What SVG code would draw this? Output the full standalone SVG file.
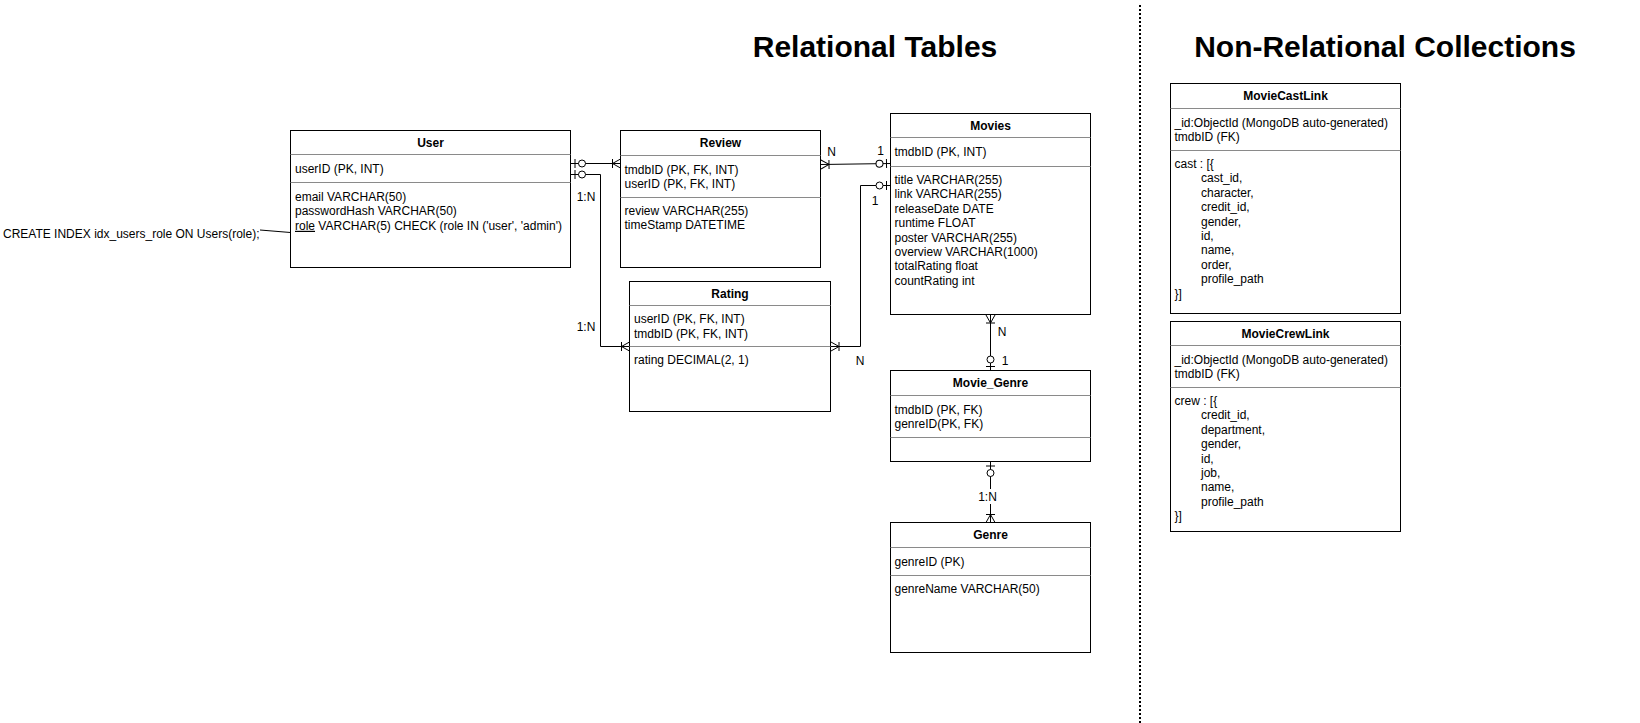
<svg xmlns="http://www.w3.org/2000/svg" width="1640" height="723" viewBox="0 0 1640 723">
<style>
.box{fill:#fff;stroke:#000;stroke-width:1}
.dv{stroke:#8a8a8a;stroke-width:1;fill:none}
text{font-family:"Liberation Sans",Arial,Helvetica,sans-serif;font-size:12px;fill:#000}
.h{font-weight:bold;text-anchor:middle}
.title{font-size:30px;font-weight:bold;text-anchor:middle}
.lbl{text-anchor:middle}
.conn{fill:none;stroke:#000;stroke-width:1}
</style>
<defs>
<marker id="oneMany" viewBox="-12 -7 14 14" refX="0" refY="0" markerWidth="14" markerHeight="14" markerUnits="userSpaceOnUse" orient="auto-start-reverse">
<path d="M-8,-4.5 L-8,4.5 M-8,0 L0,-4.5 M-8,0 L0,4.5" fill="none" stroke="#000" stroke-width="1"/>
</marker>
<marker id="zeroOne" viewBox="-16 -7 18 14" refX="0" refY="0" markerWidth="18" markerHeight="14" markerUnits="userSpaceOnUse" orient="auto-start-reverse">
<path d="M-4,-4.5 L-4,4.5" fill="none" stroke="#000" stroke-width="1"/>
<circle cx="-11" cy="0" r="3.5" fill="#fff" stroke="#000" stroke-width="1"/>
</marker>
</defs>
<rect width="1640" height="723" fill="#fff"/>

<g id="titles">
<text class="title" x="875" y="56.5">Relational Tables</text>
<text class="title" x="1385" y="56.5">Non-Relational Collections</text>
</g>
<g id="separator">
<line x1="1140" y1="5" x2="1140" y2="723" stroke="#000" stroke-width="2" stroke-dasharray="2 2"/>
</g>

<g id="connectors">
<path class="conn" d="M571,163.5 L620.5,163.5" marker-start="url(#zeroOne)" marker-end="url(#oneMany)"/>
<path class="conn" d="M571,174.5 L600.5,174.5 L600.5,346.5 L629.5,346.5" marker-start="url(#zeroOne)" marker-end="url(#oneMany)"/>
<path class="conn" d="M821,164.5 L890.5,163.5" marker-start="url(#oneMany)" marker-end="url(#zeroOne)"/>
<path class="conn" d="M831,346.5 L860.5,346.5 L860.5,185.5 L890.5,185.5" marker-start="url(#oneMany)" marker-end="url(#zeroOne)"/>
<path class="conn" d="M990.5,315 L990.5,370.5" marker-start="url(#oneMany)" marker-end="url(#zeroOne)"/>
<path class="conn" d="M990.5,462 L990.5,522.5" marker-start="url(#zeroOne)" marker-end="url(#oneMany)"/>
<path class="conn" d="M260,230 L290.5,232.5"/>
<text class="lbl" x="586" y="201">1:N</text>
<text class="lbl" x="586" y="331">1:N</text>
<text class="lbl" x="831.5" y="156">N</text>
<text class="lbl" x="880.5" y="155">1</text>
<text class="lbl" x="875" y="205">1</text>
<text class="lbl" x="860" y="365">N</text>
<text class="lbl" x="1002" y="336">N</text>
<text class="lbl" x="1005" y="365">1</text>
<rect x="976" y="489" width="23" height="15" fill="#fff"/>
<text class="lbl" x="987.5" y="501">1:N</text>
</g>

<g id="index-note">
<text x="3" y="238">CREATE INDEX idx_users_role ON Users(role);</text>
</g>

<g id="User">
<rect class="box" x="290.5" y="130.5" width="280" height="137"/>
<path class="dv" d="M290.5,154.5 H570.5 M290.5,182.5 H570.5"/>
<text class="h" x="430.5" y="146.8">User</text>
<text x="295" y="172.8">userID (PK, INT)</text>
<text x="295" y="201">email VARCHAR(50)</text>
<text x="295" y="215.4">passwordHash VARCHAR(50)</text>
<text x="295" y="229.8"><tspan text-decoration="underline">role</tspan> VARCHAR(5) CHECK (role IN ('user', 'admin')</text>
</g>

<g id="Review">
<rect class="box" x="620.5" y="130.5" width="200" height="137"/>
<path class="dv" d="M620.5,155.5 H820.5 M620.5,197.5 H820.5"/>
<text class="h" x="720.5" y="147.3">Review</text>
<text x="624.5" y="173.6">tmdbID (PK, FK, INT)</text>
<text x="624.5" y="188">userID (PK, FK, INT)</text>
<text x="624.5" y="215">review VARCHAR(255)</text>
<text x="624.5" y="229.4">timeStamp DATETIME</text>
</g>

<g id="Rating">
<rect class="box" x="629.5" y="281.5" width="201" height="130"/>
<path class="dv" d="M629.5,305.5 H830.5 M629.5,346.5 H830.5"/>
<text class="h" x="730" y="297.8">Rating</text>
<text x="634" y="323.1">userID (PK, FK, INT)</text>
<text x="634" y="337.5">tmdbID (PK, FK, INT)</text>
<text x="634" y="364">rating DECIMAL(2, 1)</text>
</g>

<g id="Movies">
<rect class="box" x="890.5" y="113.5" width="200" height="201"/>
<path class="dv" d="M890.5,137.5 H1090.5 M890.5,166.5 H1090.5"/>
<text class="h" x="990.5" y="129.8">Movies</text>
<text x="894.5" y="156.3">tmdbID (PK, INT)</text>
<text x="894.5" y="184">title VARCHAR(255)</text>
<text x="894.5" y="198.4">link VARCHAR(255)</text>
<text x="894.5" y="212.8">releaseDate DATE</text>
<text x="894.5" y="227.2">runtime FLOAT</text>
<text x="894.5" y="241.6">poster VARCHAR(255)</text>
<text x="894.5" y="256">overview VARCHAR(1000)</text>
<text x="894.5" y="270.4">totalRating float</text>
<text x="894.5" y="284.8">countRating int</text>
</g>

<g id="Movie_Genre">
<rect class="box" x="890.5" y="370.5" width="200" height="91"/>
<path class="dv" d="M890.5,395.5 H1090.5 M890.5,437.5 H1090.5"/>
<text class="h" x="990.5" y="387.3">Movie_Genre</text>
<text x="894.5" y="413.6">tmdbID (PK, FK)</text>
<text x="894.5" y="428">genreID(PK, FK)</text>
</g>

<g id="Genre">
<rect class="box" x="890.5" y="522.5" width="200" height="130"/>
<path class="dv" d="M890.5,547.5 H1090.5 M890.5,575.5 H1090.5"/>
<text class="h" x="990.5" y="539.3">Genre</text>
<text x="894.5" y="565.8">genreID (PK)</text>
<text x="894.5" y="593">genreName VARCHAR(50)</text>
</g>

<g id="MovieCastLink">
<rect class="box" x="1170.5" y="83.5" width="230" height="230"/>
<path class="dv" d="M1170.5,108.5 H1400.5 M1170.5,150.5 H1400.5"/>
<text class="h" x="1285.5" y="100.3">MovieCastLink</text>
<text x="1174.5" y="126.6">_id:ObjectId (MongoDB auto-generated)</text>
<text x="1174.5" y="141">tmdbID (FK)</text>
<text x="1174.5" y="168">cast : [{</text>
<text x="1201" y="182.4">cast_id,</text>
<text x="1201" y="196.8">character,</text>
<text x="1201" y="211.2">credit_id,</text>
<text x="1201" y="225.6">gender,</text>
<text x="1201" y="240">id,</text>
<text x="1201" y="254.4">name,</text>
<text x="1201" y="268.8">order,</text>
<text x="1201" y="283.2">profile_path</text>
<text x="1174.5" y="297.6">}]</text>
</g>

<g id="MovieCrewLink">
<rect class="box" x="1170.5" y="321.5" width="230" height="210"/>
<path class="dv" d="M1170.5,345.5 H1400.5 M1170.5,387.5 H1400.5"/>
<text class="h" x="1285.5" y="337.8">MovieCrewLink</text>
<text x="1174.5" y="363.5">_id:ObjectId (MongoDB auto-generated)</text>
<text x="1174.5" y="378">tmdbID (FK)</text>
<text x="1174.5" y="405">crew : [{</text>
<text x="1201" y="419.4">credit_id,</text>
<text x="1201" y="433.8">department,</text>
<text x="1201" y="448.2">gender,</text>
<text x="1201" y="462.6">id,</text>
<text x="1201" y="477">job,</text>
<text x="1201" y="491.4">name,</text>
<text x="1201" y="505.8">profile_path</text>
<text x="1174.5" y="520.2">}]</text>
</g>
</svg>
